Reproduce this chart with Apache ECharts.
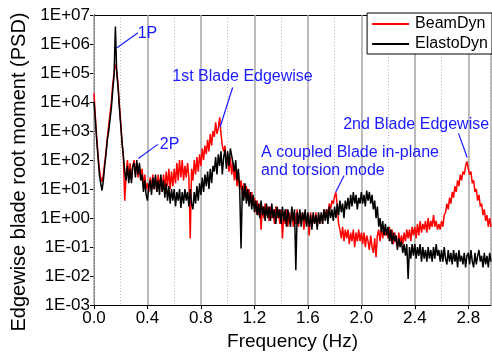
<!DOCTYPE html>
<html>
<head>
<meta charset="utf-8">
<script src="https://cdn.jsdelivr.net/npm/echarts@6/dist/echarts.min.js"></script>
<style>
  html, body { margin: 0; padding: 0; background: #fff; }
  #chart { width: 492px; height: 356px; }
</style>
</head>
<body>
<div id="chart"></div>
<script>
// frequency grid of the spectra (Hz)
const FREQ_START = 0
const FREQ_STEP = 0.01

// log10(PSD), one value per 0.01 Hz
const beamDynLog = [
  4.3, 3.5, 2.8, 2.2, 1.7, 1.4, 1.25, 1.5, 1.9, 2.3,
  2.8, 3.2, 3.6, 4.0, 4.6, 5.0, 5.3, 5.1, 4.6, 3.9,
  3.3, 2.6, 2.1, 0.6, 1.5, 2.0, 1.4, 1.9, 1.3, 1.8,
  2.0, 1.5, 1.9, 1.4, 1.8, 1.3, 1.7, 1.1, 1.5, 1.0,
  1.2, 0.9, 1.4, 1.0, 1.5, 1.0, 1.4, 0.9, 1.5, 1.1,
  1.4, 0.9, 1.5, 1.0, 1.6, 1.1, 1.7, 1.0, 1.6, 1.1,
  1.7, 1.2, 1.9, 1.3, 2.0, 1.4, 2.0, 1.3, 1.8, 1.4,
  1.9, 1.4, -0.7, 1.7, 1.3, 2.0, 1.5, 2.1, 1.6, 2.2,
  1.8, 2.4, 2.0, 2.5, 2.2, 2.7, 2.3, 2.9, 2.5, 3.0,
  2.8, 3.3, 2.9, 3.1, 3.47, 2.9, 2.5, 2.3, 2.5, 1.9,
  2.0, 1.6, 2.1, 1.5, 1.9, 1.3, 1.7, 1.1, 1.5, 1.0,
  1.3, 0.8, 1.2, 0.7, 1.1, 0.6, 1.0, 0.5, 0.9, 0.4,
  0.7, 0.2, 0.6, 0.1, 0.5, -0.4, 0.4, 0.0, 0.5, 0.1,
  0.4, -0.1, 0.4, 0.0, 0.3, -0.2, 0.4, 0.0, 0.3, -0.2,
  0.3, -0.7, 0.2, -0.2, 0.3, -0.3, 0.2, -0.1, 0.3, -0.3,
  0.2, -0.2, 0.3, -0.3, 0.2, -0.1, 0.2, -0.4, 0.1, -0.2,
  0.1, -0.6, 0.2, -0.3, 0.1, -0.2, 0.2, -0.3, 0.1, -0.1,
  0.1, -0.2, 0.3, 0.0, 0.3, 0.1, 0.5, 0.3, 0.6, 0.5,
  0.75, 0.88, 0.4, -0.2, -0.4, -0.7, -0.3, -0.8, -0.4, -0.7,
  -0.4, -0.9, -0.5, -0.8, -0.4, -1.0, -0.5, -0.8, -0.4, -0.8,
  -0.5, -0.9, -0.5, -1.0, -0.6, -0.8, -1.1, -0.6, -1.0, -1.2,
  -0.7, -1.35, -0.6, -0.4, -0.8, -0.3, -0.7, -0.3, -0.6, -0.4,
  -0.7, -0.3, -0.8, -0.4, -0.9, -0.5, -0.8, -1.0, -0.5, -0.9,
  -0.6, -0.9, -0.5, -0.8, -0.4, -0.7, -0.4, -0.8, -0.3, -0.6,
  -0.3, -0.7, -0.2, -0.6, -0.1, -0.5, -0.2, -0.4, -0.1, -0.5,
  0.0, -0.4, -0.1, -0.3, 0.1, -0.3, -0.1, -0.4, -0.2, -0.4,
  -0.1, -0.3, 0.1, 0.2, 0.5, 0.3, 0.7, 0.5, 0.9, 0.7,
  1.1, 0.9, 1.3, 1.1, 1.5, 1.3, 1.6, 1.5, 1.8, 1.95,
  1.7, 1.5, 1.6, 1.2, 1.3, 0.9, 1.0, 0.6, 0.8, 0.4,
  0.5, 0.1, 0.3, -0.1, 0.1, -0.3, 0.0, -0.3
]

const elastoDynLog = [
  4.0, 3.4, 2.7, 2.1, 1.5, 1.2, 0.95, 1.3, 1.8, 2.2,
  2.7, 3.0, 3.4, 3.8, 4.4, 4.9, 6.6, 5.0, 4.5, 3.8,
  3.2, 2.6, 2.1, 1.6, 1.3, 1.8, 1.2, 1.7, 1.2, 1.8,
  1.9, 1.4, 2.0, 1.5, 1.9, 1.3, 1.5, 0.9, 1.3, 0.8,
  0.6, 1.1, 1.3, 0.8, 1.4, 1.0, 1.5, 0.9, 1.3, 0.8,
  1.5, 0.9, 1.3, 0.7, 1.2, 0.6, 1.1, 0.5, 1.0, 0.6,
  1.0, 0.4, 0.9, 0.6, 1.0, 0.35, 0.9, 0.5, 1.0, 0.6,
  0.9, 0.4, 1.0, 0.5, 0.3, 0.9, 0.5, 1.1, 0.6, 1.2,
  0.8, 1.4, 0.9, 1.5, 1.1, 1.6, 1.0, 1.7, 1.2, 1.8,
  1.6, 2.1, 1.5, 2.2, 1.8, 2.3, 1.5, 2.1, 2.35, 1.7,
  2.3, 1.8, 2.4, 2.45, 1.9, 1.6, 2.0, 1.3, 1.7, 1.0,
  -1.05, 1.1, 0.6, 1.2, 0.5, 1.0, 0.4, 0.9, 0.3, 0.8,
  0.2, 0.6, 0.1, 0.5, 0.0, 0.6, 0.1, 0.4, -0.1, 0.5,
  0.0, 0.4, -0.1, 0.5, 0.0, 0.3, -0.2, 0.4, 0.0, 0.3,
  -0.2, 0.4, -0.1, 0.3, -0.3, 0.3, 0.0, -0.3, 0.4, -0.1,
  0.3, -1.8, 0.2, -0.2, 0.3, -0.3, 0.2, -0.1, 0.3, -0.3,
  0.2, -0.3, 0.1, -0.4, 0.2, -0.2, 0.1, -0.4, 0.2, -0.2,
  0.2, -0.2, 0.3, -0.1, 0.3, -0.2, 0.4, 0.0, 0.3, -0.1,
  0.4, 0.0, 0.5, 0.1, 0.6, 0.2, 0.5, 0.0, 0.6, 0.3,
  0.7, 0.3, 0.8, 0.4, 0.9, 0.5, 0.8, 0.3, 0.7, 0.5,
  0.9, 0.5, 0.8, 0.4, 0.95, 0.6, 0.9, 0.5, 0.8, 0.3,
  0.6, 0.0, 0.4, -0.3, 0.0, -0.5, -0.1, -0.6, -0.2, -0.6,
  -0.3, -0.8, -0.4, -0.9, -0.5, -0.8, -0.6, -1.1, -0.7, -1.0,
  -0.8, -1.2, -0.9, -1.3, -0.9, -2.1, -1.0, -1.4, -0.9, -1.3,
  -0.9, -1.4, -1.0, -1.3, -0.9, -1.5, -1.0, -1.4, -1.1, -1.5,
  -1.0, -1.4, -1.1, -1.5, -1.0, -1.4, -0.9, -1.3, -1.1, -1.5,
  -1.1, -1.5, -1.0, -1.4, -1.6, -1.1, -1.5, -1.2, -1.6, -1.1,
  -1.5, -1.2, -1.7, -1.1, -1.5, -1.3, -1.6, -1.2, -1.7, -1.3,
  -1.2, -1.6, -1.1, -1.5, -1.7, -1.2, -1.6, -1.3, -1.1, -1.5,
  -1.3, -1.7, -1.2, -1.6, -1.3, -1.7, -1.2, -1.5
]

// annotations: text centre and arrow [from, to], as [Hz, log10(PSD)]
const notes = [
  { text: '1P', at: [0.40, 6.37], from: [0.329, 6.39], to: [0.172, 5.87] },
  { text: '2P', at: [0.565, 2.53], from: [0.477, 2.54], to: [0.332, 2.05] },
  { text: '1st Blade Edgewise', at: [1.111, 4.87], from: [1.037, 4.50], to: [0.943, 3.13] },
  { text: 'A coupled Blade in-plane\nand torsion mode', at: [1.25, 1.95], left: true, from: [1.871, 1.47], to: [1.808, 0.89] },
  { text: '2nd Blade Edgewise', at: [2.41, 3.21], from: [2.727, 2.92], to: [2.792, 2.09] },
]

const font = '"Liberation Sans", Arial, sans-serif'
const toPair = (v, i) => [+(FREQ_START + i * FREQ_STEP).toFixed(2), Math.pow(10, v)]
const pt = p => [p[0], Math.pow(10, p[1])]

const expLabel = v => {
  const e = Math.round(Math.log10(v))
  return '1E' + (e < 0 ? '-' : '+') + String(Math.abs(e)).padStart(2, '0')
}

const chart = echarts.init(document.getElementById('chart'))

chart.setOption({
  animation: false,
  textStyle: { fontFamily: font },
  grid: { left: 94, right: 1, top: 15, bottom: 48 },
  legend: {
    orient: 'vertical',
    right: 0,
    top: 13,
    padding: [3, 4, 2, 5],
    itemGap: 4,
    itemWidth: 37,
    itemHeight: 2,
    icon: 'rect',
    backgroundColor: '#fff',
    borderColor: '#000',
    borderWidth: 1,
    textStyle: { fontSize: 16, color: '#000', fontFamily: font, lineHeight: 16, padding: [0, 0, 0, 1] },
    data: ['BeamDyn', 'ElastoDyn'],
  },
  xAxis: [{
    type: 'value',
    min: 0,
    max: 2.97,
    interval: 0.4,
    z: 2,
    name: 'Frequency (Hz)',
    nameLocation: 'middle',
    nameGap: 24,
    nameTextStyle: { fontSize: 19, color: '#000', fontFamily: font },
    axisLine: { lineStyle: { color: '#000', width: 1 } },
    axisTick: { length: 4, lineStyle: { color: '#000' } },
    axisLabel: {
      fontSize: 17, color: '#000', margin: 5, showMaxLabel: false,
      formatter: v => v.toFixed(1),
    },
    splitLine: { show: true, lineStyle: { color: '#a8a8a8', width: 1.5 } },
  }, {
    type: 'value',
    position: 'top',
    min: 0,
    max: 2.97,
    interval: 0.2,
    z: 1,
    axisLine: { lineStyle: { color: '#000', width: 1 } },
    axisTick: { show: false },
    axisLabel: { show: false },
    splitLine: { show: true, lineStyle: { color: '#bbb', width: 1, type: [1, 2] } },
  }],
  yAxis: [{
    type: 'log',
    logBase: 10,
    min: 1e-3,
    max: 1e7,
    interval: 1,
    axisLine: { show: true, lineStyle: { color: '#000', width: 1 } },
    axisTick: { length: 4, lineStyle: { color: '#000' } },
    axisLabel: { fontSize: 17, color: '#000', margin: 4, formatter: expLabel },
    splitLine: { show: false },
  }, {
    type: 'log',
    logBase: 10,
    min: 1e-3,
    max: 1e7,
    interval: 1,
    position: 'right',
    axisLine: { show: true, lineStyle: { color: '#000', width: 1 } },
    axisTick: { inside: true, length: 4, lineStyle: { color: '#000' } },
    axisLabel: { show: false },
    splitLine: { show: false },
  }],
  series: [{
    name: 'BeamDyn',
    type: 'line',
    symbol: 'none',
    color: '#ff0000',
    lineStyle: { width: 1.5 },
    data: beamDynLog.map(toPair),
  }, {
    name: 'ElastoDyn',
    type: 'line',
    symbol: 'none',
    color: '#000000',
    lineStyle: { width: 1.5 },
    data: elastoDynLog.map(toPair),
    markLine: {
      silent: true,
      symbol: ['none', 'arrow'],
      symbolSize: [0, 7],
      label: { show: false },
      lineStyle: { color: '#1a1aff', width: 1.2, type: 'solid' },
      data: notes.map(n => [{ coord: pt(n.from) }, { coord: pt(n.to) }]),
    },
  }],
})

const noteText = notes.map(n => {
  const p = chart.convertToPixel({ xAxisIndex: 0, yAxisIndex: 0 }, pt(n.at))
  return {
    type: 'text',
    x: p[0],
    y: p[1],
    z: 100,
    style: {
      text: n.text,
      fill: '#1a1aff',
      font: '16px ' + font,
      align: n.left ? 'left' : 'center',
      verticalAlign: 'middle',
      lineHeight: 18.5,
    },
  }
})

chart.setOption({
  graphic: noteText.concat([{
    type: 'text',
    x: 19,
    y: 172,
    rotation: Math.PI / 2,
    style: {
      text: 'Edgewise blade root moment (PSD)',
      fill: '#000',
      font: '20px ' + font,
      align: 'center',
      verticalAlign: 'middle',
    },
  }]),
})
</script>
</body>
</html>
